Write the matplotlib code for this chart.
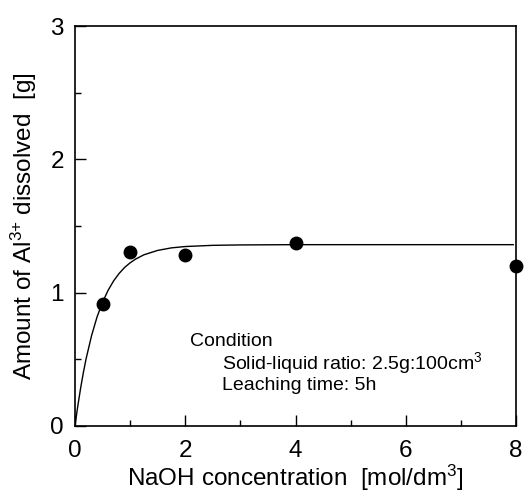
import matplotlib
matplotlib.use("Agg")
import matplotlib.pyplot as plt

# Measured points
naoh_conc = [0.5, 1.0, 2.0, 4.0, 8.0]
al_dissolved = [0.915, 1.305, 1.28, 1.37, 1.20]

# Fitted curve
curve_x = [0, 0.025, 0.05, 0.1, 0.15, 0.2, 0.3, 0.4, 0.5, 0.6, 0.7, 0.8, 0.9, 1.0, 1.1, 1.25, 1.5,
           1.75, 2.0, 2.5, 3.0, 4.0, 5.0, 6.0, 7.0, 7.95]
curve_y = [0, 0.076, 0.148, 0.279, 0.397, 0.502, 0.677, 0.818, 0.929, 1.017, 1.088, 1.144, 1.189,
           1.224, 1.252, 1.284, 1.317, 1.336, 1.346, 1.355, 1.358, 1.36, 1.36, 1.36, 1.36, 1.36]

plt.rcParams["font.family"] = ["Liberation Sans", "DejaVu Sans"]
plt.rcParams["mathtext.default"] = "regular"

fig = plt.figure(figsize=(5.24, 4.93), dpi=100)
ax = fig.add_axes([75 / 524, 67 / 493, 441 / 524, 400 / 493])

ax.plot(curve_x, curve_y, color="black", linewidth=1.0)
ax.plot(naoh_conc, al_dissolved, "o", color="black", markersize=9, clip_on=False, zorder=3)

ax.set_xlim(0, 8)
ax.set_ylim(0, 3)
ax.set_xticks([0, 2, 4, 6, 8])
ax.set_xticks([1, 3, 5, 7], minor=True)
ax.set_yticks([0, 1, 2, 3])
ax.set_yticks([0.5, 1.5, 2.5], minor=True)
ax.tick_params(which="both", direction="in", labelsize=17.5, width=1.0)
ax.tick_params(which="major", length=8)
ax.tick_params(which="minor", length=4)
ax.tick_params(axis="x", pad=10)
ax.tick_params(axis="y", pad=8)
for s in ax.spines.values():
    s.set_linewidth(1.2)

ax.set_xlabel("NaOH concentration  [mol/dm$^{3}$]", fontsize=17.5, labelpad=1)
ax.set_ylabel("Amount of Al$^{3{+}}$ dissolved  [g]", fontsize=17.5, labelpad=8)

# condition note, positioned in pixels
fig.text(190 / 524, 1 - 341 / 493, "Condition", fontsize=14, va="center", ha="left")
fig.text(222 / 524, 1 - 363 / 493, "Solid-liquid ratio: 2.5g:100cm$^{3}$", fontsize=14,
         va="center", ha="left")
fig.text(222 / 524, 1 - 386 / 493, "Leaching time: 5h", fontsize=14, va="center", ha="left")

fig.savefig("out.png", dpi=100)
